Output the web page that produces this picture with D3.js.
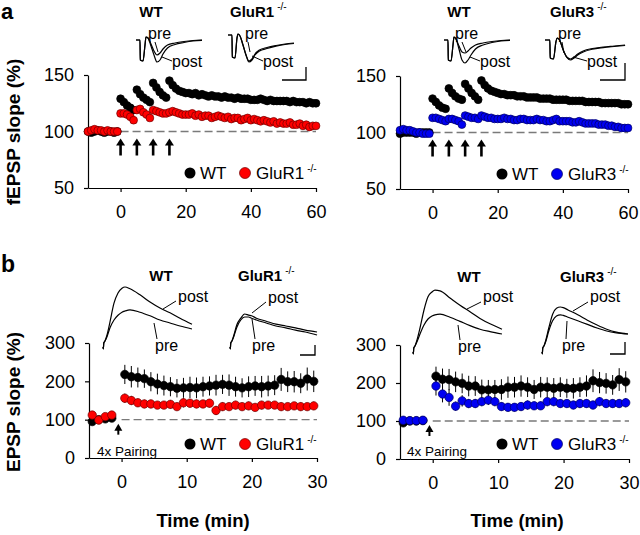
<!DOCTYPE html>
<html><head><meta charset="utf-8">
<script src="https://cdn.jsdelivr.net/npm/d3@7"></script>
<style>body{margin:0;background:#fff}svg{display:block}</style>
</head><body><svg id="c" width="640" height="535"></svg>
<script>
// ---------------- DATA ----------------
const timeA = [-10,-9,-8,-7,-6,-5,-4,-3,-2,-1,0,1,2,3,4,5,6,7,8,9,10,11,12,13,14,15,16,17,18,19,20,21,22,23,24,25,26,27,28,29,30,31,32,33,34,35,36,37,38,39,40,41,42,43,44,45,46,47,48,49,50,51,52,53,54,55,56,57,58,59,60];
const xTicksA = [0,20,40,60];
const yTicksA = [50,100,150];
const arrowTimesA = [0,5,10,15];
// panel a, left: WT vs GluR1-/-
const wtA1 = [100,99,100,101,100,99,100,100,99,100, 129,126,123,121,119, 137,133,130,128,126, 143,139,135,132,130, 145,141,138,136,135,134, 134,133,134,132,133,132,131,132,131,131, 130,131,130,130,129,130,129,129,129,128, 128,128,129,128,127,128,127,127,127,127, 127,126,127,126,126,126,125,126,125,125];
const koA1 = [100,101,102,101,101,100,101,100,100,100, 116,116,115,113,110, 119,120,117,115,112, 119,118,117,116,116, 117,118,117,116,115,115, 115,116,114,115,113,114,114,112,113,114, 113,112,113,111,112,112,110,111,112,110, 111,110,109,110,109,108,109,107,108,107, 107,108,106,106,107,105,106,104,105,105];
// panel a, right: WT vs GluR3-/-
const wtA2 = [99,100,100,100,100,99,100,100,100,100, 130,127,124,122,121, 139,135,132,130,129, 143,139,135,132,129, 146,142,139,137,136,135, 134,134,133,133,133,132,132,132,131,131, 131,131,130,130,130,130,129,129,129,129, 129,128,128,128,128,128,127,127,127,127, 127,126,126,126,126,126,126,125,125,125];
const koA2 = [102,103,102,102,101,100,100,99,99,99, 113,113,112,111,110, 112,112,111,110,107, 115,114,113,113,112, 115,114,113,113,112,112, 112,113,112,112,111,111,112,112,111,111, 111,112,111,111,110,110,111,112,110,110, 110,110,109,109,110,109,108,108,108,108, 107,107,107,106,106,105,105,104,104,104];
const semA_WT = 3, semA_KO = 2.5;

const timeB = [-4.5,-3.5,-2.5,-1.5,0.5,1.5,2.5,3.5,4.5,5.5,6.5,7.5,8.5,9.5,10.5,11.5,12.5,13.5,14.5,15.5,16.5,17.5,18.5,19.5,20.5,21.5,22.5,23.5,24.5,25.5,26.5,27.5,28.5,29.5];
const xTicksB = [0,10,20,30];
const yTicksB = [0,100,200,300];
const arrowTimeB = -0.5;
const wtB1 = [95,100,102,104, 218,212,210,207,199,193,189,186,182,183,184,183,186,188,190,192,190,186,183,186,188,186,188,190,205,199,199,195,206,200];
const koB1 = [112,99,108,112, 156,150,144,141,141,138,138,140,134,144,143,141,141,143,124,134,134,138,134,136,132,138,138,138,134,134,136,134,134,136];
const wtB2 = [95,100,100,101, 218,210,209,203,199,192,192,182,182,183,183,189,189,192,189,183,189,189,186,189,186,186,189,192,206,201,199,195,209,203];
const koB2 = [102,101,101,102, 192,171,162,139,153,146,146,151,155,151,138,136,136,138,142,140,140,151,151,146,146,142,146,146,142,151,146,146,146,148];
const errWtB1 = [5,5,5,5, 25,28,26,24,25,27,26,25,24,26,28,27,26,25,27,25,28,26,25,27,26,28,27,26,30,27,28,26,30,28];
const errKoB1 = [5,5,5,5, 12,12,11,11,11,10,10,11,10,12,11,11,10,11,12,11,10,11,10,11,10,11,10,10,11,10,10,11,10,11];
const errWtB2 = [5,5,5,5, 25,28,28,27,26,27,26,27,26,25,27,28,27,28,26,25,27,26,27,26,25,27,26,28,30,28,27,26,30,28];
const errKoB2 = [5,5,5,5, 25,22,22,12,15,12,12,12,13,12,11,11,11,11,12,11,11,12,12,11,11,11,12,11,11,12,11,11,11,12];

// example traces (ms, mV)
const fepspT = [0,1.33,1.43,2.33,3,3.33,4,5,6,7,8,9,10.5,13,16,19,22];
const fWT1pre  = [0,0,-2.0,-2.1,-0.5,0.3,0.2,-0.4,-1.1,-1.5,-1.3,-0.9,-0.5,-0.3,-0.15,-0.05,0];
const fWT1post = [0,0,-2.0,-2.1,-0.5,0.3,0.2,-0.6,-1.5,-2.2,-2.0,-1.4,-0.8,-0.45,-0.25,-0.1,-0.03];
const fKO1pre  = [0,0,-2.2,-2.3,-0.3,0.1,-0.1,-1.0,-2.0,-2.6,-2.4,-1.9,-1.5,-1.25,-1.05,-0.9,-0.8];
const fKO1post = [0,0,-2.2,-2.3,-0.3,0.1,-0.1,-1.0,-2.0,-2.7,-2.5,-2.0,-1.6,-1.35,-1.12,-0.95,-0.85];
const fWT2pre  = [0,0,-2.0,-2.1,-0.5,0.3,0.1,-0.6,-1.2,-1.3,-1.1,-0.8,-0.5,-0.3,-0.15,-0.05,0];
const fWT2post = [0,0,-2.0,-2.1,-0.5,0.3,0.1,-0.9,-2.0,-2.3,-2.0,-1.5,-0.9,-0.5,-0.25,-0.1,-0.03];
const fKO2pre  = [0,0,-1.8,-1.9,-0.2,0.2,0,-1.0,-1.7,-1.9,-1.7,-1.4,-1.1,-0.85,-0.7,-0.6,-0.5];
const fKO2post = [0,0,-1.8,-1.9,-0.2,0.2,0,-1.0,-1.75,-2.0,-1.8,-1.5,-1.2,-0.92,-0.76,-0.65,-0.55];
const epspT = [0,0.3,0.8,2,4,7,11,15,19,22,27,37,47,57,67,77,89];
const eWT1post = [0,-0.33,0.67,1,2,4.2,7.3,9,9.8,10,9.7,8.7,7.5,6.5,5.7,4.8,3.8];
const eWT1pre  = [0,-0.33,0.67,1,1.7,3.2,4.5,5.3,5.8,6,6.2,5.8,5.2,4.5,4,3.5,3];
const eKO1post = [0,-0.33,0.67,1,2,3.7,4.8,5.5,5.3,5.2,4.8,4.3,3.8,3.5,3.2,2.8,2.5];
const eKO1pre  = [0,-0.33,0.67,1,1.8,3.3,4.5,5,5,4.8,4.5,4,3.5,3.2,2.8,2.5,2];
const eWT2post = [0,-0.33,0.67,1,2,4,7,9.2,10,10.3,10.2,9,7.8,6.7,5.6,4.7,3.8];
const eWT2pre  = [0,-0.33,0.67,1,1.7,3,4.5,5.5,6,6.2,6.3,5.8,5.1,4.4,3.8,3.4,3];
const eKO2post = [0,-0.33,0.67,1,2,4,6.3,7.3,7.5,7.4,7,6.2,5.3,4.5,3.8,3.3,3];
const eKO2pre  = [0,-0.33,0.67,1,1.8,3.5,5.2,6,6.2,6.1,5.8,5.2,4.6,4,3.5,3.2,3];

// ---------------- DRAW ----------------
const FONT = '"Liberation Sans", Arial, Helvetica, sans-serif';
const svg = d3.select('#c').attr('font-family', FONT);
const RED = '#ff0000', REDE = '#700000', BLUE = '#0000f2', BLUEE = '#000060';

function txt(x, y, s, size, weight, anchor) {
  return svg.append('text').attr('x', x).attr('y', y).attr('font-size', size)
    .attr('font-weight', weight || 'normal').attr('text-anchor', anchor || 'start').attr('fill', '#000').text(s);
}
function supTxt(x, y, main, size, weight) {
  const t = svg.append('text').attr('x', x).attr('y', y).attr('font-size', size).attr('font-weight', weight).attr('fill', '#000');
  t.append('tspan').text(main);
  t.append('tspan').attr('font-size', 10).attr('font-weight', 'normal').attr('dx', 3).attr('dy', -7).text('-/-');
  return t;
}
function line(x1, y1, x2, y2, w) {
  svg.append('line').attr('x1', x1).attr('y1', y1).attr('x2', x2).attr('y2', y2).attr('stroke', '#000').attr('stroke-width', w || 1);
}
function arrow(x, yTip, yTail, shaftW, headW, headH) {
  line(x, yTail, x, yTip + headH - 1, shaftW);
  svg.append('path').attr('d', `M${x},${yTip} L${x - headW / 2},${yTip + headH} L${x + headW / 2},${yTip + headH} Z`).attr('fill', '#000');
}

function panel(cfg) {
  const x = d3.scaleLinear().domain(cfg.xd).range(cfg.xr);
  const y = d3.scaleLinear().domain(cfg.yd).range(cfg.yr);
  const ya = svg.append('g').attr('transform', `translate(${cfg.xr[0]},0)`)
    .call(d3.axisLeft(y).tickValues(cfg.yt).tickSize(4).tickSizeOuter(0).tickPadding(10));
  const xa = svg.append('g').attr('transform', `translate(0,${cfg.yr[0]})`)
    .call(d3.axisBottom(x).tickValues(cfg.xt).tickSize(4).tickSizeOuter(0).tickPadding(13));
  [ya, xa].forEach(a => {
    a.selectAll('text').attr('font-size', 18).attr('font-family', FONT).attr('fill', '#000');
    a.selectAll('path,line').attr('stroke', '#000').attr('stroke-width', 1.2);
  });
  svg.append('line').attr('x1', x(0)).attr('x2', x(cfg.xd[1])).attr('y1', y(100)).attr('y2', y(100))
    .attr('stroke', '#7a7a7a').attr('stroke-width', 1.4).attr('stroke-dasharray', '8,4');
  const series = [
    {v: cfg.wt, e: cfg.ewt, fill: '#000', edge: '#000'},
    {v: cfg.ko, e: cfg.eko, fill: cfg.col, edge: cfg.edge}
  ];
  series.forEach(s => {
    const g = svg.append('g');
    const err = i => (Array.isArray(s.e) ? s.e[i] : s.e);
    g.selectAll('line').data(cfg.t).join('line')
      .attr('x1', d => x(d)).attr('x2', d => x(d))
      .attr('y1', (d, i) => y(s.v[i] + err(i))).attr('y2', (d, i) => y(s.v[i] - err(i)))
      .attr('stroke', '#000').attr('stroke-width', 1);
    g.selectAll('circle').data(cfg.t).join('circle')
      .attr('cx', d => x(d)).attr('cy', (d, i) => y(s.v[i])).attr('r', cfg.r)
      .attr('fill', s.fill).attr('stroke', s.edge).attr('stroke-width', 0.7);
  });
  return {x, y};
}

const pA1 = panel({xd: [-10, 60], xr: [88, 316], yd: [50, 150], yr: [188, 75], xt: xTicksA, yt: yTicksA,
  t: timeA, wt: wtA1, ko: koA1, ewt: semA_WT, eko: semA_KO, col: RED, edge: REDE, r: 3.9});
const pA2 = panel({xd: [-10, 60], xr: [400, 628], yd: [50, 150], yr: [189, 76], xt: xTicksA, yt: yTicksA,
  t: timeA, wt: wtA2, ko: koA2, ewt: semA_WT, eko: semA_KO, col: BLUE, edge: BLUEE, r: 3.9});
const pB1 = panel({xd: [-5, 30], xr: [89, 317], yd: [0, 300], yr: [458, 343], xt: xTicksB, yt: yTicksB,
  t: timeB, wt: wtB1, ko: koB1, ewt: errWtB1, eko: errKoB1, col: RED, edge: REDE, r: 4.2});
const pB2 = panel({xd: [-5, 30], xr: [400, 629], yd: [0, 300], yr: [459, 345], xt: xTicksB, yt: yTicksB,
  t: timeB, wt: wtB2, ko: koB2, ewt: errWtB2, eko: errKoB2, col: BLUE, edge: BLUEE, r: 4.2});

// arrows
[pA1, pA2].forEach(p => arrowTimesA.forEach(t => arrow(p.x(t), p.y(100) + 7, p.y(100) + 24, 2.6, 9, 7)));
[pB1, pB2].forEach(p => arrow(p.x(arrowTimeB), p.y(100) + 4, p.y(100) + 15, 2, 8, 7));
txt(97, 456, '4x Pairing', 13.5);
txt(407, 456, '4x Pairing', 13.5);

// legends
function legend(x0, y0, color, edge, name) {
  svg.append('circle').attr('cx', x0).attr('cy', y0).attr('r', 5.5).attr('fill', '#000');
  txt(x0 + 10, y0 + 6, 'WT', 17);
  svg.append('circle').attr('cx', x0 + 55).attr('cy', y0).attr('r', 5.5).attr('fill', color).attr('stroke', edge).attr('stroke-width', 0.7);
  supTxt(x0 + 66, y0 + 6, name, 17, 'normal');
}
legend(190, 173, RED, REDE, 'GluR1');
legend(502, 174, BLUE, BLUEE, 'GluR3');
legend(190, 444, RED, REDE, 'GluR1');
legend(502, 444, BLUE, BLUEE, 'GluR3');

// panel letters and titles
txt(1, 19, 'a', 22, 'bold');
txt(1, 272, 'b', 23, 'bold');
txt(151, 17, 'WT', 15, 'bold', 'middle');
supTxt(230, 17, 'GluR1', 15, 'bold');
txt(459, 17, 'WT', 15, 'bold', 'middle');
supTxt(550, 17, 'GluR3', 15, 'bold');
txt(161, 281, 'WT', 15, 'bold', 'middle');
supTxt(238, 281, 'GluR1', 15, 'bold');
txt(469, 282, 'WT', 15, 'bold', 'middle');
supTxt(560, 282, 'GluR3', 15, 'bold');

// axis titles
svg.append('text').attr('transform', 'translate(20,132) rotate(-90)').attr('text-anchor', 'middle')
  .attr('font-size', 19).attr('font-weight', 'bold').text('fEPSP slope (%)');
svg.append('text').attr('transform', 'translate(20,402) rotate(-90)').attr('text-anchor', 'middle')
  .attr('font-size', 19).attr('font-weight', 'bold').text('EPSP slope (%)');
txt(203, 527, 'Time (min)', 18.5, 'bold', 'middle');
txt(517, 527, 'Time (min)', 18.5, 'bold', 'middle');

// example traces
function trace(tArr, vArr, x0, xk, y0, yk, w) {
  const xs = d3.scaleLinear().domain([0, 1]).range([x0, x0 + xk]);
  const ys = d3.scaleLinear().domain([0, 1]).range([y0, y0 - yk]);
  const ln = d3.line().x((d, i) => xs(tArr[i])).y(d => ys(d)).curve(d3.curveMonotoneX);
  svg.append('path').attr('d', ln(vArr)).attr('fill', 'none').attr('stroke', '#000').attr('stroke-width', w || 1.2);
}
trace(fepspT, fWT1pre, 136, 3, 40, 10); trace(fepspT, fWT1post, 136, 3, 40, 10);
trace(fepspT, fKO1pre, 228, 3, 35, 10); trace(fepspT, fKO1post, 228, 3, 35, 10);
trace(fepspT, fWT2pre, 444, 3, 40, 10); trace(fepspT, fWT2post, 444, 3, 40, 10);
trace(fepspT, fKO2pre, 545, 3.64, 40, 10); trace(fepspT, fKO2post, 545, 3.64, 40, 10);
trace(epspT, eWT1pre, 103, 1, 347, 6); trace(epspT, eWT1post, 103, 1, 347, 6);
trace(epspT, eKO1pre, 230, 0.978, 347, 6); trace(epspT, eKO1post, 230, 0.978, 347, 6);
trace(epspT, eWT2pre, 413, 1, 352, 6); trace(epspT, eWT2post, 413, 1, 352, 6);
trace(epspT, eKO2pre, 542, 0.966, 352, 6); trace(epspT, eKO2post, 542, 0.966, 352, 6);

// pre/post labels with leaders
const lab = [
  ['pre', 148, 39, 155, 42, 158, 52], ['post', 172, 67, 172, 61, 162, 57],
  ['pre', 245, 39, 248, 42, 250, 52], ['post', 263, 67, 263, 61, 252, 56],
  ['pre', 455, 39, 462, 42, 466, 52], ['post', 480, 67, 480, 61, 470, 57],
  ['pre', 558, 39, 562, 42, 564, 53], ['post', 587, 67, 587, 61, 573, 57],
  ['post', 178, 302, 176, 301, 163, 309], ['pre', 155, 351, 157, 339, 154, 323],
  ['post', 268, 303, 266, 302, 252, 313], ['pre', 252, 351, 255, 339, 252, 319],
  ['post', 483, 302, 481, 302, 467, 309], ['pre', 458, 352, 460, 340, 458, 325],
  ['post', 590, 302, 588, 302, 573, 311], ['pre', 562, 351, 566, 339, 567, 321]
];
lab.forEach(l => { txt(l[1], l[2], l[0], 16); line(l[3], l[4], l[5], l[6], 1); });

// scale bars
[['M282,80H306V67'], ['M600,80H625V63'], ['M300,355H315V345'], ['M610,354H625V342']].forEach(d =>
  svg.append('path').attr('d', d[0]).attr('fill', 'none').attr('stroke', '#000').attr('stroke-width', 1.3));
</script></body></html>
